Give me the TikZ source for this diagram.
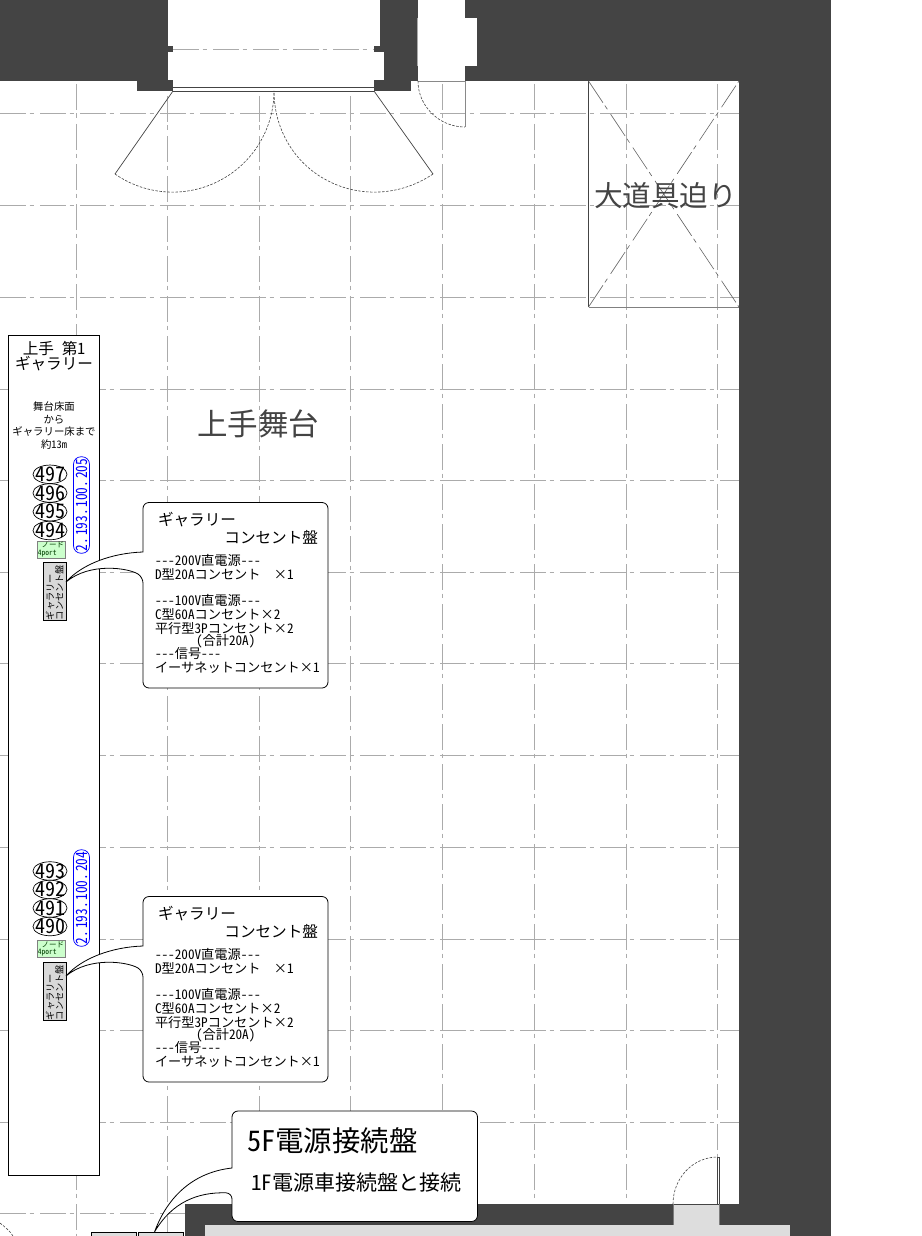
\documentclass[tikz,border=0pt]{standalone}
\usepackage{fontspec}
\usepackage{graphicx}
\newfontfamily\jp[RawFeature=+hwid]{Noto Sans CJK JP}
\setmainfont{Noto Sans CJK JP}
\newcommand{\fs}[1]{\fontsize{#1pt}{#1pt}\selectfont\jp}
\newcommand{\ipgap}{\hspace{2.2pt}}
\newcommand{\ovaltxt}[1]{\raisebox{-7.2pt}[0pt][0pt]{\makebox[0pt]{\fs{20}#1}}}
\definecolor{wall}{HTML}{444444}
\definecolor{roomgray}{HTML}{DDDDDD}
\definecolor{gridc}{HTML}{ABABAB}
\tikzset{
 gridline/.style={draw=gridc,line width=0.9pt,dash pattern=on 26pt off 3.5pt on 4.5pt off 6pt},
 cross/.style={draw=wall!85,line width=0.6pt,dash pattern=on 26pt off 3.5pt on 4.5pt off 6pt},
 doorarc/.style={draw=wall,line width=0.6pt,dash pattern=on 2.5pt off 1.5pt},
 doorline/.style={draw=wall,line width=0.7pt},
 callout/.style={draw=black,fill=white,line width=0.8pt},
 plain/.style={inner sep=0pt,outer sep=0pt,text=black},
 oval/.style={draw=black,fill=white,ellipse,line width=0.7pt,minimum width=34pt,minimum height=18.5pt,inner sep=0pt},
 ipcap/.style={draw=blue,fill=white,rounded corners=7.5pt,line width=0.7pt,inner sep=0pt,text=blue},
 nodebox/.style={draw=gray,fill=green!20,line width=0.6pt,minimum width=28pt,minimum height=17pt,inner sep=0pt,align=left,font=\fs{7.5},text=black!75!green},
 panelbox/.style={draw=black,fill=gray!30,line width=0.6pt,minimum width=23pt,minimum height=58pt,inner sep=0pt},
 title/.style={inner sep=0pt,text=wall},
}
\usetikzlibrary{shapes.geometric}
\newcommand{\panelbody}[1]{%
 \node[plain,anchor=west] (p#1a) at (158,{#1+520}) {\fs{15.6}ギャラリー};
 \node[plain,anchor=east] (p#1b) at (318,{#1+537}) {\fs{15.6}コンセント盤};
 \node[plain,anchor=west] (p#1c) at (155,{#1+560}) {\fs{13.2}---200V直電源---};
 \node[plain,anchor=west] (p#1d) at (155,{#1+574}) {\fs{13.2}D型20Aコンセント\hspace{1em}×1};
 \node[plain,anchor=west] (p#1e) at (155,{#1+600}) {\fs{13.2}---100V直電源---};
 \node[plain,anchor=west] (p#1f) at (155,{#1+614}) {\fs{13.2}C型60Aコンセント×2};
 \node[plain,anchor=west] (p#1g) at (155,{#1+628}) {\fs{13.2}平行型3Pコンセント×2};
 \node[plain,anchor=west] (p#1h) at (196,{#1+641}) {\fs{13.2}(合計20A)};
 \node[plain,anchor=west] (p#1i) at (155,{#1+654}) {\fs{13.2}---信号---};
 \node[plain,anchor=west] (p#1j) at (155,{#1+668}) {\fs{13.2}イーサネットコンセント×1};
}
\newcommand{\panelshape}[1]{%
 \coordinate (t#1) at (66,{#1+582});
 \draw[callout,rounded corners=6pt] (143,{#1+552}) -- (143,{#1+502.5}) -- (328,{#1+502.5}) -- (328,{#1+688}) -- (143,{#1+688}) -- (143,{#1+577}) [sharp corners]
   .. controls (128,{#1+568}) and (90,{#1+562}) .. (t#1) .. controls (82,{#1+564}) and (112,{#1+553}) .. cycle;
}
\begin{document}
\begin{tikzpicture}[x=1pt,y=-1pt]
\useasboundingbox (0,0) rectangle (921,1236);
\fill[white] (0,0) rectangle (921,1236);
% grid
\foreach \y in {113,205.5,297,389,480,572,663,755,847,939,1030,1122,1213}
  \draw[gridline] (0,\y) -- (739,\y);
\foreach \x in {76,442,534,626,717}
  \draw[gridline] (\x,84) -- (\x,1236);
\foreach \x in {167,259,350.5}
  \draw[gridline] (\x,96) -- (\x,1236);
% walls
\fill[wall] (0,0) rectangle (830.5,81);
\fill[wall] (739,0) rectangle (830.5,1236);
\fill[wall] (185,1204) rectangle (739,1236);
\fill[wall] (137,81) rectangle (173,91);
\fill[wall] (374,81) rectangle (411,91);
% openings
\fill[white] (168,0) rectangle (380,81);
\fill[white] (380,52) rectangle (384,80);
\fill[white] (418,0) rectangle (465,81);
\fill[white] (465,18) rectangle (477,66);
\fill[wall] (168,46) rectangle (173,52);
\fill[wall] (168,80) rectangle (173,91);
\fill[wall] (374,46) rectangle (380,52);
\fill[wall] (374,80) rectangle (380,91);
\draw[gridline] (173,49) -- (374,49);
\draw[draw=gridc,line width=0.8pt] (417.5,18) -- (417.5,66);
\fill[roomgray] (673,1204) rectangle (719,1226);
\fill[roomgray] (205,1225) rectangle (790,1236);
% main door
\draw[doorline] (173,87.5) -- (374,87.5);
\draw[doorline] (173,91) -- (374,91);
\draw[doorline] (173,91) -- (115,174);
\draw[doorline] (374,91) -- (433,174);
\draw[doorarc] (115,174) .. controls (145.9,195.6) and (186.2,198) .. (219.6,180.6) .. controls (253,163.2) and (274,128.7) .. (274,91);
\draw[doorarc] (433,174) .. controls (401.1,195.6) and (360.8,198) .. (327.4,180.6) .. controls (294,163.2) and (274,128.7) .. (274,91);
% small door top
\draw[draw=gridc!80!black,line width=0.9pt] (418,81) -- (465,81) -- (465,127);
\draw[doorarc] (418,81) .. controls (418,106) and (439,127) .. (465,127);
% door bottom right
\draw[doorline] (673,1204) -- (719,1204);
\draw[doorline] (717.5,1157) -- (717.5,1204);
\draw[doorline] (719.5,1157) -- (719.5,1204);
\draw[doorline] (717.5,1157) -- (719.5,1157);
\draw[doorarc] (673,1204) .. controls (673,1178) and (693,1157) .. (717.5,1157);
\draw[draw=wall!70,line width=0.7pt] (673,1204) -- (673,1225);
\draw[draw=wall!70,line width=0.7pt] (719,1204) -- (719,1225);
% scenery area
\draw[draw=wall,line width=0.7pt] (588.5,81) -- (588.5,307);
\draw[draw=gray,line width=0.9pt] (588.5,307) -- (739,307);
\draw[cross] (588.5,81) -- (739,307);
\draw[cross] (588.5,307) -- (739,81);
\node[title] (daidogu) at (665.5,196) {\fs{28.6}大道具迫り};
\node[title] (kamite) at (258,424) {\fs{30.5}上手舞台};
% gallery
\draw[draw=black,fill=white,line width=0.8pt] (8.5,335.5) rectangle (99.5,1175.5);
\node[plain,align=center] (gal) at (54,356) {\fs{15.6}\baselineskip=15pt 上手\ 第1\\[-0.5pt]\fs{15.6}ギャラリー};
\node[plain,align=center] (galh) at (54,425.5) {\fs{10.4}舞台床面\\[0.6pt]\fs{10.4}から\\[0.6pt]\fs{10.4}ギャラリー床まで\\[0.6pt]\fs{10.4}約13m};
% circles
\node[oval] (n497) at (50,474.3) {\ovaltxt{497}};
\node[oval] (n496) at (50,493) {\ovaltxt{496}};
\node[oval] (n495) at (50,511.7) {\ovaltxt{495}};
\node[oval] (n494) at (50,530.5) {\ovaltxt{494}};
\node[oval] (n493) at (50,871) {\ovaltxt{493}};
\node[oval] (n492) at (50,889.5) {\ovaltxt{492}};
\node[oval] (n491) at (50,908) {\ovaltxt{491}};
\node[oval] (n490) at (50,926.5) {\ovaltxt{490}};
% ip capsules
\node[ipcap,minimum width=16pt,minimum height=96.5pt] (ip205) at (81.5,505) {\rotatebox{90}{\scalebox{0.86}[1]{\fs{15.5}2.\ipgap 193.\ipgap 100.\ipgap 205}}};
\node[ipcap,minimum width=16pt,minimum height=96.5pt] (ip204) at (81.5,898) {\rotatebox{90}{\scalebox{0.86}[1]{\fs{15.5}2.\ipgap 193.\ipgap 100.\ipgap 204}}};
% node boxes
\node[nodebox] (nb1) at (51,549.5) {\ ノード\\4port};
\node[nodebox] (nb2) at (51,949) {\ ノード\\4port};
% panel boxes
\node[panelbox] (pb1) at (54.5,591) {\rotatebox{90}{\parbox{58pt}{\baselineskip=10pt\fs{9.2}ギャラリー\\コンセント盤}}};
\node[panelbox] (pb2) at (54.5,991) {\rotatebox{90}{\parbox{58pt}{\baselineskip=10pt\fs{9.2}ギャラリー\\コンセント盤}}};
% bottom-left arc and boxes
\draw[doorarc] (0,1223) .. controls (5,1227) and (10,1231) .. (13,1236);
\node[draw=black,fill=roomgray,line width=0.8pt,minimum width=45pt,minimum height=12pt,inner sep=0pt,anchor=north west] (bx1) at (90.5,1232) {};
\node[draw=black,fill=roomgray,line width=0.8pt,minimum width=45pt,minimum height=12pt,inner sep=0pt,anchor=north west] (bx2) at (138,1232) {};
% callouts
\panelshape{0}
\panelbody{0}
\panelshape{394}
\panelbody{394}
\coordinate (tip) at (154.5,1232);
\draw[callout,rounded corners=6pt] (232,1168) -- (232,1111) -- (477.5,1111) -- (477.5,1221.5) -- (232,1221.5) -- (232,1193) [sharp corners]
  .. controls (198,1192) and (172,1202) .. (tip) .. controls (168,1195) and (195,1172) .. cycle;
\node[plain,anchor=west] (five) at (247,1141) {\fs{28.4}5F電源接続盤};
\node[plain,anchor=west] (one) at (251,1183) {\fs{21}1F電源車接続盤と接続};
\end{tikzpicture}
\end{document}
